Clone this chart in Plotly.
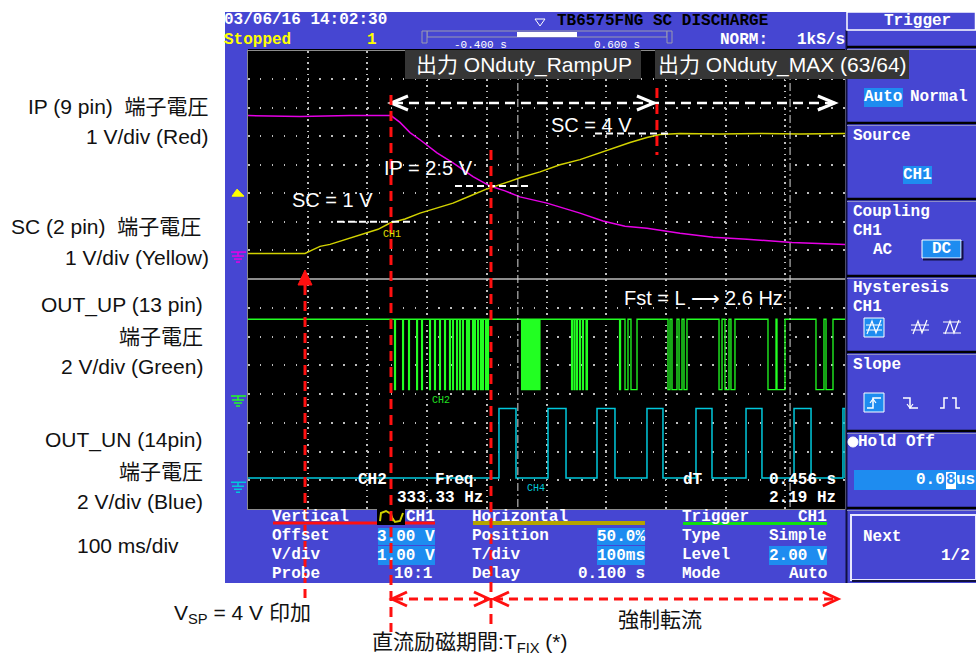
import plotly.graph_objects as go

W, H = 976, 657

# ---------------- acquisition data (time in ms, 100 ms/div) ----------------
T_START, T_END = -400, 600

# CH1 : SC pin voltage [V], 1 V/div
sc_t = [-400, -304.5, -292.8, -279.4, -262.6, -245.9, -224.1, -204.0, -182.2, -162.1,
        -137.0, -111.9, -83.4, -56.6, -28.1, 0.3, 22.1, 55.6, 89.1, 122.6, 156.1,
        189.6, 211.4, 239.9, 268.3, 290.1, 323.6, 390.6, 457.6, 524.6, 600]
sc_v = [-0.12, -0.12, 0.0, 0.13, 0.2, 0.31, 0.45, 0.59, 0.73, 0.95,
        1.09, 1.30, 1.48, 1.65, 1.90, 2.15, 2.30, 2.54, 2.75, 3.0, 3.18,
        3.42, 3.60, 3.78, 3.96, 4.06, 4.10, 4.08, 4.10, 4.08, 4.10]

# CH3 : IP pin voltage [V], 1 V/div
ip_t = [-400, -312.9, -229.1, -160.5, -145.4, -128.6, -111.9, -83.4, -56.6, -23.1,
        5.4, 30.5, 55.6, 100.8, 156.1, 194.6, 231.5, 268.3, 323.6, 378.9, 435.8, 511.2, 600]
ip_v = [4.73, 4.70, 4.73, 4.73, 4.49, 4.13, 3.88, 3.42, 3.07, 2.58,
        2.25, 2.08, 1.87, 1.65, 1.30, 1.02, 0.84, 0.77, 0.59, 0.45, 0.38, 0.27, 0.20]

# CH2 : OUT_UP levels [V] and the spans where it is pulled low (ms)
UP_HIGH, UP_LOW = 5.2, 0.3
up_low_spans = [
    (-154.5, -153.0), (-141.0, -139.6), (-131.0, -129.6), (-117.5, -116.1), (-109.2, -107.8),
    (-95.8, -94.4), (-87.5, -86.1), (-79.1, -77.7), (-70.7, -69.3), (-62.4, -61.0),
    (-57.3, -55.9), (-50.6, -49.2), (-45.6, -44.2), (-40.6, -39.2), (-33.9, -32.5),
    (-30.5, -29.1), (-23.8, -22.4), (-20.5, -19.1), (-15.4, -14.0), (-10.4, -9.0),
    (-7.1, -5.7), (-2.0, -0.6), (1.3, 2.7),
    (58.3, 59.7), (61.6, 63.0), (65.0, 66.4), (68.3, 69.7), (71.7, 73.1), (75.0, 76.4),
    (78.4, 79.8), (81.7, 83.1), (85.1, 86.5), (87.6, 89.0),
    (142.0, 143.4), (146.2, 147.6), (150.4, 151.8), (155.4, 156.8), (160.4, 161.8), (166.3, 168.5),
    (222.4, 224.0), (231.5, 236.5), (241.5, 251.6),
    (303.5, 306.9), (310.2, 318.6), (322.0, 327.0), (330.3, 335.3),
    (389.0, 394.0), (399.0, 405.7), (409.0, 415.7),
    (471.0, 484.4), (486.1, 499.5),
    (551.4, 564.8), (568.2, 579.9),
]

# CH4 : OUT_UN levels [V] and the spans where it is high (ms)
UN_HIGH, UN_LOW = 5.0, 0.15
un_high_spans = [(20.4, 48.9), (102.5, 132.7), (184.6, 214.7), (268.3, 295.1),
                 (350.4, 377.2), (434.2, 460.9), (514.6, 543.1), (596.6, 600)]

# event times (ms)
T_VSP = -304.5
T_FIX_START = -160.5
T_FIX_END = 7.0
T_MAX = 285.0
T_SPAN_END = 588.0

# dT cursors (ms)
CURSOR_A = 52.0
CURSOR_DT = 456.0

# lower window: ground positions in divisions, 2 V/div
UP_GND_DIV = 4
UN_GND_DIV = 1
LOW_V_PER_DIV = 2.0

# ---------------- screen geometry (px) ----------------
PL, PR = 248, 845
UP_TOP, UP_BOT = 51, 278.5
LO_TOP, LO_BOT = 279, 509
UP_RANGE = (-1, 7)
LO_RANGE = (0, 8)

BLUE = "#4646d2"
HILITE = "#1e8cf0"
YELLOW = "#d2d200"
MAGENTA = "#e600e6"
GREEN = "#22ff22"
CYAN = "#00c8dc"
GRID = "#bdbdbd"
RED = "#ff1010"
MONO = "Liberation Mono, DejaVu Sans Mono, monospace"
SANS = "Liberation Sans, Arial, Noto Sans CJK JP, sans-serif"


def t2px(t):
    return PL + (t - T_START) / (T_END - T_START) * (PR - PL)


def v2py(v):
    return UP_BOT - (v - UP_RANGE[0]) / (UP_RANGE[1] - UP_RANGE[0]) * (UP_BOT - UP_TOP)


def d2py(d):
    return LO_BOT - (d - LO_RANGE[0]) / (LO_RANGE[1] - LO_RANGE[0]) * (LO_BOT - LO_TOP)


def fx(x):
    return x / W


def fy(y):
    return 1 - y / H


shapes = []
annotations = []


def rect(x0, y0, x1, y1, fill, line=None, lw=0, layer="above"):
    shapes.append(dict(type="rect", xref="paper", yref="paper", layer=layer,
                       x0=fx(x0), x1=fx(x1), y0=fy(y1), y1=fy(y0),
                       fillcolor=fill, line=dict(color=line or fill, width=lw)))


def seg(x0, y0, x1, y1, color, width=1.0, dash="solid", layer="above"):
    shapes.append(dict(type="line", xref="paper", yref="paper", layer=layer,
                       x0=fx(x0), x1=fx(x1), y0=fy(y0), y1=fy(y1),
                       line=dict(color=color, width=width, dash=dash)))


def poly(points, color, width=1.0, fill=None, closed=False):
    d = "M " + " L ".join(f"{fx(x):.5f},{fy(y):.5f}" for x, y in points)
    if closed:
        d += " Z"
    shapes.append(dict(type="path", xref="paper", yref="paper", layer="above", path=d,
                       fillcolor=fill if fill else "rgba(0,0,0,0)",
                       line=dict(color=color, width=width)))


def chevron(x, y, direction, color, width=3, w=17, h=7):
    back = x - w if direction == ">" else x + w
    poly([(back, y - h), (x, y), (back, y + h)], color, width)


def text(s, x, y, size=16, color="white", anchor="left", family=MONO, bold=True, yanchor="middle"):
    annotations.append(dict(text=s, x=fx(x), y=fy(y), xref="paper", yref="paper",
                            xanchor=anchor, yanchor=yanchor, showarrow=False,
                            borderpad=0, borderwidth=0,
                            font=dict(family=family, size=size, color=color,
                                      weight="bold" if bold else "normal")))


def ground(x, y, color):
    seg(x - 7, y, x + 8, y, color, 1.5)
    seg(x, y, x, y + 4, color, 1.5)
    seg(x - 6, y + 4, x + 6, y + 4, color, 1.5)
    seg(x - 4, y + 7, x + 4, y + 7, color, 1.5)
    seg(x - 2, y + 10, x + 2, y + 10, color, 1.5)


# ---------------- instrument frame ----------------
rect(225, 12, 976, 583, BLUE, layer="below")
rect(PL, 49, PR, LO_BOT, "black", layer="below")

# header
text("03/06/16 14:02:30", 224, 20)
text("Stopped", 224, 40, color="#ffff00")
text("1", 367, 40, color="#ffff00")
poly([(535, 19), (545, 19), (540, 26), (535, 19)], "white", 1)
text("TB6575FNG SC DISCHARGE", 768, 21, color="black", anchor="right")
rect(427, 31, 667, 37, BLUE, line="#9a9ab0", lw=1)
rect(422, 31, 427, 43, BLUE, line="#9a9ab0", lw=1)
rect(667, 31, 672, 43, BLUE, line="#9a9ab0", lw=1)
rect(517, 32, 577, 37, "white")
text("-0.400 s", 454, 45, size=11, bold=False)
text("0.600 s", 594, 45, size=11, bold=False)
text("NORM:", 720, 40)
text("1kS/s", 797, 40)

# right-hand soft-key panel
seg(846.5, 30, 846.5, 583, "#101040", 2)
rect(847, 12, 975.5, 30, BLUE, line="white", lw=1.5)
text("Trigger", 917, 21, anchor="center")
for yy in (47, 123, 199, 276, 352, 431, 508):
    seg(847, yy, 976, yy, "black", 2.5)
    seg(847, yy + 2.5, 976, yy + 2.5, "#8c8cc8", 1)
rect(864, 88, 903, 107, HILITE)
text("Auto", 864, 97.5)
text("Normal", 910, 97.5)
text("Source", 853, 136)
rect(903, 166, 932, 184, HILITE)
text("CH1", 917.5, 175, anchor="center")
text("Coupling", 853, 212)
text("CH1", 853, 231)
text("AC", 873, 250)
rect(922, 240, 961, 258, HILITE, line="white", lw=1)
seg(923, 259.5, 962.5, 259.5, "#101040", 2)
seg(962.5, 241, 962.5, 259.5, "#101040", 2)
text("DC", 941.5, 249, anchor="center")
text("Hysteresis", 853, 288)
text("CH1", 853, 307)
rect(864, 318, 884, 337, HILITE, line="white", lw=1)
seg(866, 325, 882, 325, "white", 1)
seg(866, 330, 882, 330, "white", 1)
poly([(867, 334), (872, 321), (876, 333), (881, 320)], "white", 1.2)
seg(911, 325, 929, 325, "white", 1)
seg(911, 330, 929, 330, "white", 1)
poly([(913, 334), (918, 321), (922, 333), (927, 320)], "white", 1.2)
seg(943, 322, 961, 322, "white", 1)
seg(943, 333, 961, 333, "white", 1)
poly([(945, 334), (950, 321), (954, 333), (959, 320)], "white", 1.2)
text("Slope", 853, 365)
rect(864, 393, 884, 412, HILITE, line="white", lw=1)
poly([(867, 408), (873, 408), (873, 398), (881, 398)], "white", 1.5)
poly([(870, 403), (873, 399), (876, 403)], "white", 1.2)
poly([(903, 398), (910, 398), (910, 408), (918, 408)], "white", 1.5)
poly([(907, 404), (910, 408), (913, 404)], "white", 1.2)
poly([(940, 408), (944, 408), (944, 398), (948, 398)], "white", 1.5)
poly([(952, 398), (956, 398), (956, 408), (960, 408)], "white", 1.5)
shapes.append(dict(type="circle", xref="paper", yref="paper", layer="above",
                   x0=fx(848), x1=fx(858), y0=fy(447), y1=fy(437),
                   fillcolor="white", line=dict(color="white", width=1)))
text("Hold Off", 858, 442)
rect(854, 470, 976, 490, HILITE)
text("0.0", 945, 480, anchor="right")
rect(946, 472, 956, 489, "white")
text("8", 951, 480, color=HILITE, anchor="center")
text("us", 956, 480)
rect(851, 515, 976, 580, BLUE, line="#e8e8ff", lw=2)
seg(852, 581, 976, 581, "#101040", 2)
text("Next", 863, 537)
text("1/2", 970, 556, anchor="right")

# lower settings panel
text("Vertical", 272, 517)
seg(273, 523, 435, 523, RED, 3)
rect(377, 509, 405, 525, "black")
poly([(380, 521), (381, 513), (386, 511), (391, 514), (393, 521)], YELLOW, 2)
poly([(391, 516), (395, 522), (400, 521), (403, 513)], YELLOW, 2)
text("CH1", 406, 517)
text("Offset", 272, 536)
text("V/div", 272, 555)
text("Probe", 272, 574)
rect(378, 528, 435, 545, HILITE)
rect(378, 546, 435, 565, HILITE)
text("3.00 V", 435, 536.5, anchor="right")
text("1.00 V", 435, 555.5, anchor="right")
text("10:1", 432, 574, anchor="right")

text("Horizontal", 472, 517)
seg(473, 523, 645, 523, "#b4a400", 4)
text("Position", 472, 536)
text("T/div", 472, 555)
text("Delay", 472, 574)
rect(597, 528, 645, 545, HILITE)
rect(597, 546, 645, 565, HILITE)
text("50.0%", 645, 536.5, anchor="right")
text("100ms", 645, 555.5, anchor="right")
text("0.100 s", 645, 574, anchor="right")

text("Trigger", 682, 517)
seg(683, 523.5, 827, 523.5, "#10e010", 3)
text("CH1", 827, 517, anchor="right")
text("Type", 682, 536)
text("Simple", 827, 536, anchor="right")
text("Level", 682, 555)
rect(769, 546, 827, 565, HILITE)
text("2.00 V", 827, 555.5, anchor="right")
text("Mode", 682, 574)
text("Auto", 827, 574, anchor="right")

# ---------------- on-screen markers and readouts ----------------
# trigger level flag (2.00 V) and channel grounds
poly([(232, v2py(2.0) + 3), (244, v2py(2.0) + 3), (237, v2py(2.0) - 4), (232, v2py(2.0) + 3)],
     "#ffff00", 1, fill="#ffff00", closed=True)
ground(238, v2py(0.0) + 2, MAGENTA)
ground(238, d2py(UP_GND_DIV) + 2, GREEN)
ground(238, d2py(UN_GND_DIV) + 2, CYAN)

text("CH1", 383, 235, size=10, color="#e0e000", bold=False)
text("CH2", 432, 400, size=10, color="#20e020", bold=False)
text("CH4", 527, 488, size=10, color=CYAN, bold=False)

# dT cursors
for tc in (CURSOR_A, CURSOR_A + CURSOR_DT):
    seg(t2px(tc), UP_TOP, t2px(tc), LO_BOT, "#d8d8d8", 1, dash="8px,3px,2px,3px")

text("CH2", 358, 480)
text("Freq", 435, 480)
text("333.33 Hz", 483, 498, anchor="right")
text("dT", 683, 480)
text(f"{CURSOR_DT / 1000:.3f} s", 836, 480, anchor="right")
text(f"{1000 / CURSOR_DT:.2f} Hz", 836, 498, anchor="right")

# ---------------- overlay captions ----------------
rect(405, 50, 641, 79, "#363636")
rect(655, 50, 909, 79, "#363636")
text("出力 ONduty_RampUP", 416, 65, size=21, family=SANS, bold=False)
text("出力 ONduty_MAX (63/64)", 658, 65, size=21, family=SANS, bold=False)

# phase arrow across the top
y_arrow = 103
seg(t2px(T_FIX_START) + 2, y_arrow, t2px(T_SPAN_END) - 3, y_arrow, "white", 2.5, dash="10px,6px")
chevron(t2px(T_FIX_START), y_arrow, "<", "white", 3)
chevron(t2px(T_MAX) - 3, y_arrow, ">", "white", 3)
chevron(t2px(T_SPAN_END) - 3, y_arrow, ">", "white", 3)

# level call-outs
CALL = dict(size=20, family=SANS, bold=False)
text("SC = 1 V", 292, 200, **CALL)
seg(337, v2py(1.0), 415, v2py(1.0), "white", 2, dash="7px,4px")
text("IP = 2.5 V", 384, 168, **CALL)
seg(455, v2py(2.25), 532, v2py(2.25), "white", 2, dash="7px,4px")
text("SC = 4 V", 551, 125, **CALL)
seg(595, v2py(4.1), 672, v2py(4.1), "white", 2, dash="7px,4px")
text("Fst = L ⟶ 2.6 Hz", 624, 298, **CALL)

# event markers (red)
x_vsp = t2px(T_VSP)
poly([(x_vsp - 7, 285), (x_vsp, 270), (x_vsp + 7, 285), (x_vsp - 7, 285)], RED, 1, fill=RED, closed=True)
seg(x_vsp, 285, x_vsp, 598, RED, 3, dash="10px,6px")
seg(t2px(T_FIX_START), 95, t2px(T_FIX_START), 632, RED, 3, dash="10px,6px")
seg(t2px(T_FIX_END), 150, t2px(T_FIX_END), 630, RED, 3, dash="10px,6px")
seg(t2px(T_MAX), 88, t2px(T_MAX), 155, RED, 3, dash="10px,6px")

y_span = 599
seg(t2px(T_FIX_START) + 3, y_span, t2px(T_FIX_END) - 3, y_span, RED, 3, dash="9px,6px")
chevron(t2px(T_FIX_START) + 1, y_span, "<", RED, 3, w=15, h=7)
chevron(t2px(T_FIX_END) - 2, y_span, ">", RED, 3, w=15, h=7)
seg(t2px(T_FIX_END) + 3, y_span, t2px(T_SPAN_END) - 2, y_span, RED, 3, dash="9px,6px")
chevron(t2px(T_FIX_END) + 3, y_span, "<", RED, 3, w=15, h=7)
chevron(t2px(T_SPAN_END), y_span, ">", RED, 3, w=15, h=7)

# ---------------- side and bottom labels ----------------
LBL = dict(size=21, color="#111111", family=SANS, bold=False)
NB = "\u00a0"
text(f"IP (9 pin){NB}{NB}端子電圧", 209, 106, anchor="right", **LBL)
text("1 V/div (Red)", 209, 136, anchor="right", **LBL)
text(f"SC (2 pin){NB}{NB}端子電圧", 201, 227, anchor="right", **LBL)
text("1 V/div (Yellow)", 209, 257, anchor="right", **LBL)
text("OUT_UP (13 pin)", 203, 305, anchor="right", **LBL)
text("端子電圧", 203, 336, anchor="right", **LBL)
text("2 V/div (Green)", 203, 366, anchor="right", **LBL)
text("OUT_UN (14pin)", 203, 440, anchor="right", **LBL)
text("端子電圧", 203, 471, anchor="right", **LBL)
text("2 V/div (Blue)", 203, 501, anchor="right", **LBL)
text("100 ms/div", 77, 545, **LBL)
text("V<sub>SP</sub> = 4 V 印加", 174, 614, **LBL)
text("強制転流", 660, 619, anchor="center", **LBL)
text("直流励磁期間:T<sub>FIX</sub> (*)", 470, 643, anchor="center", **LBL)


# ---------------- traces ----------------
def low_pulse_wave(spans, hi, lo):
    xs, ys = [T_START], [hi]
    for s, e in spans:
        xs += [s, s, e, e]
        ys += [hi, lo, lo, hi]
    xs.append(T_END)
    ys.append(hi)
    return xs, ys


def high_pulse_wave(spans, hi, lo):
    xs, ys = [T_START], [lo]
    for s, e in spans:
        xs += [s, s, e, e]
        ys += [lo, hi, hi, lo]
    xs.append(T_END)
    ys.append(lo)
    return xs, ys


up_x, up_v = low_pulse_wave(up_low_spans, UP_HIGH, UP_LOW)
un_x, un_v = high_pulse_wave(un_high_spans, UN_HIGH, UN_LOW)
up_div = [UP_GND_DIV + v / LOW_V_PER_DIV for v in up_v]
un_div = [UN_GND_DIV + v / LOW_V_PER_DIV for v in un_v]

fig = go.Figure()
fig.add_trace(go.Scatter(x=ip_t, y=ip_v, mode="lines", xaxis="x", yaxis="y",
                         line=dict(color=MAGENTA, width=1.5), hoverinfo="skip", name="IP"))
fig.add_trace(go.Scatter(x=sc_t, y=sc_v, mode="lines", xaxis="x", yaxis="y",
                         line=dict(color=YELLOW, width=1.5), hoverinfo="skip", name="SC"))
fig.add_trace(go.Scatter(x=up_x, y=up_div, mode="lines", xaxis="x2", yaxis="y2",
                         line=dict(color=GREEN, width=1.3), hoverinfo="skip", name="OUT_UP"))
fig.add_trace(go.Scatter(x=un_x, y=un_div, mode="lines", xaxis="x2", yaxis="y2",
                         line=dict(color=CYAN, width=1.5), hoverinfo="skip", name="OUT_UN"))

axis_common = dict(showticklabels=False, ticks="", zeroline=False, showgrid=True,
                   gridcolor=GRID, gridwidth=1.5, showline=True, mirror=True,
                   linecolor="#8c8c8c", linewidth=1)
xdom = [PL / W, PR / W]
fig.update_layout(
    width=W, height=H, margin=dict(l=0, r=0, t=0, b=0),
    paper_bgcolor="white", plot_bgcolor="black", showlegend=False,
    xaxis=dict(domain=xdom, range=[T_START, T_END], dtick=100, tick0=T_START, anchor="y",
               griddash="1.5px,4.2px", **axis_common),
    yaxis=dict(domain=[1 - UP_BOT / H, 1 - UP_TOP / H], range=list(UP_RANGE), dtick=1,
               anchor="x", griddash="1.5px,10.4px", **axis_common),
    xaxis2=dict(domain=xdom, range=[T_START, T_END], dtick=100, tick0=T_START, anchor="y2",
                matches="x", griddash="1.5px,4.2px", **axis_common),
    yaxis2=dict(domain=[1 - LO_BOT / H, 1 - LO_TOP / H], range=list(LO_RANGE), dtick=1,
                anchor="x2", griddash="1.5px,10.4px", **axis_common),
    shapes=shapes, annotations=annotations,
)

fig.write_html("out.html")
